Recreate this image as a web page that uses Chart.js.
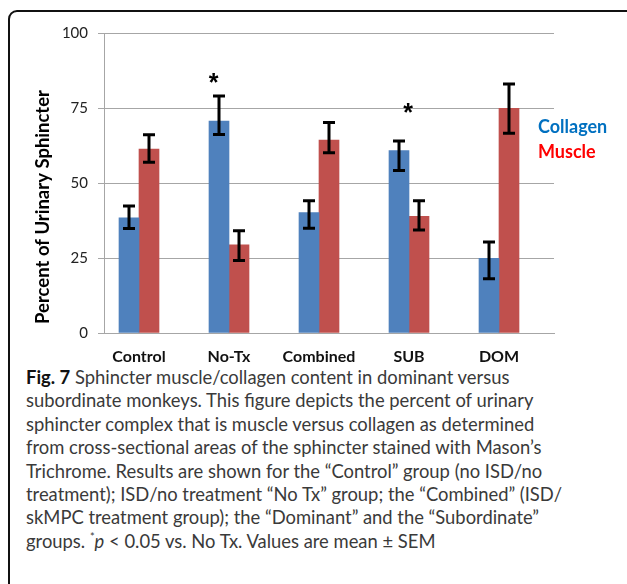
<!DOCTYPE html>
<html>
<head>
<meta charset="utf-8">
<script src="https://cdn.jsdelivr.net/npm/chart.js@4.4.1/dist/chart.umd.min.js"></script>
<style>
  html, body { margin: 0; padding: 0; background: #fff; }
  #wrap { position: relative; width: 627px; height: 584px; overflow: hidden; }
  #frame {
    position: absolute; left: 8px; top: 10px; width: 640px; height: 590px;
    border: 2px solid #111; border-radius: 9px; box-sizing: border-box;
  }
  #chart { position: absolute; left: 0; top: 0; }
  #caption {
    position: absolute; left: 26px; top: 366px;
    font-family: Lato, sans-serif; font-size: 18.4px; line-height: 23.4px;
    color: #3a3a3a; white-space: pre;
  }
  #caption b { color: #111; }
  #caption sup { font-size: 11px; line-height: 0; }
</style>
</head>
<body>
<div id="wrap">
  <div id="frame"></div>
  <canvas id="chart" width="627" height="365"></canvas>
  <div id="caption"><b>Fig. 7</b> Sphincter muscle/collagen content in dominant versus
subordinate monkeys. This figure depicts the percent of urinary
sphincter complex that is muscle versus collagen as determined
from cross-sectional areas of the sphincter stained with Mason’s
Trichrome. Results are shown for the “Control” group (no ISD/no
treatment); ISD/no treatment “No Tx” group; the “Combined” (ISD/
skMPC treatment group); the “Dominant” and the “Subordinate”
groups. <sup>*</sup><i>p</i> &lt; 0.05 vs. No Tx. Values are mean ± SEM</div>
</div>
<script>
// ---- data ----
const categories = ['Control', 'No-Tx', 'Combined', 'SUB', 'DOM'];
const collagen     = [38.4, 70.6, 40.1, 60.8, 24.9];
const collagenHigh = [42.3, 79.0, 44.1, 64.0, 30.3];  // error bar ends
const collagenLow  = [34.8, 66.2, 34.9, 54.2, 18.1];
const muscle       = [61.3, 29.4, 64.3, 38.9, 74.9];
const muscleHigh   = [66.1, 34.1, 70.2, 44.1, 83.0];
const muscleLow    = [56.9, 24.2, 60.1, 34.3, 66.6];
const yTicks       = [0, 25, 50, 75, 100];
// significance stars (category position, percent)
const stars = [{ x: 0.83, y: 85.3 }, { x: 2.99, y: 75.3 }];

const BLUE = '#4F81BD', RED = '#C0504D';
const GRID = '#a6a6a6';
const FONT = 'Lato, sans-serif';

const toPoints = vals => vals.map((v, i) => ({ x: i, y: v }));

// error bars + stars + legend + y title
const extras = {
  id: 'extras',
  afterDatasetsDraw(chart){
    const ctx = chart.ctx;
    const ys = chart.scales.y, xs = chart.scales.x;
    const highs = [collagenHigh, muscleHigh], lows = [collagenLow, muscleLow];
    ctx.save();
    ctx.strokeStyle = '#000';
    ctx.lineWidth = 3;
    chart.data.datasets.forEach((ds, d) => {
      chart.getDatasetMeta(d).data.forEach((bar, i) => {
        const top = ys.getPixelForValue(highs[d][i]), bot = ys.getPixelForValue(lows[d][i]);
        ctx.beginPath();
        ctx.moveTo(bar.x, top); ctx.lineTo(bar.x, bot);
        ctx.moveTo(bar.x - 6, top); ctx.lineTo(bar.x + 6, top);
        ctx.moveTo(bar.x - 6, bot); ctx.lineTo(bar.x + 6, bot);
        ctx.stroke();
      });
    });

    ctx.fillStyle = '#000';
    ctx.font = 'bold 25px "Liberation Sans", sans-serif';
    ctx.textAlign = 'center';
    ctx.textBaseline = 'alphabetic';
    stars.forEach(s => ctx.fillText('*', xs.getPixelForValue(s.x), ys.getPixelForValue(s.y) + 14));

    // legend as coloured words
    const area = chart.chartArea;
    ctx.font = 'bold 18px ' + FONT;
    ctx.textAlign = 'left';
    ctx.textBaseline = 'middle';
    ctx.fillStyle = '#0070C0';
    ctx.fillText(chart.data.datasets[0].label, area.right - 16, area.top + 94);
    ctx.fillStyle = '#FF0000';
    ctx.fillText(chart.data.datasets[1].label, area.right - 16, area.top + 119);

    // y axis title
    ctx.fillStyle = '#000';
    ctx.font = 'bold 18.5px ' + FONT;
    ctx.textAlign = 'center';
    ctx.translate(43, area.top + 174);
    ctx.rotate(-Math.PI / 2);
    ctx.fillText('Percent of Urinary Sphincter', 0, 0);
    ctx.restore();
  }
};

new Chart(document.getElementById('chart'), {
  type: 'bar',
  data: {
    datasets: [
      { label: 'Collagen', data: toPoints(collagen), backgroundColor: BLUE, barThickness: 20 },
      { label: 'Muscle', data: toPoints(muscle), backgroundColor: RED, barThickness: 20 }
    ]
  },
  options: {
    responsive: false,
    animation: false,
    layout: { padding: { left: 0, right: 73, top: 33, bottom: 0 } },
    plugins: { legend: { display: false }, tooltip: { enabled: false } },
    scales: {
      x: {
        type: 'linear',
        offset: false,
        min: -35 / 90,
        max: -35 / 90 + 5,
        grid: { display: false },
        border: { display: true, color: GRID, width: 1 },
        afterBuildTicks: s => { s.ticks = categories.map((c, i) => ({ value: i })); },
        afterFit: s => { s.height = 32; },
        ticks: {
          padding: 6,
          color: '#111',
          font: { family: FONT, size: 16, weight: 'bold' },
          callback: v => categories[v]
        }
      },
      y: {
        min: 0,
        max: 100,
        afterBuildTicks: s => { s.ticks = yTicks.map(v => ({ value: v })); },
        afterFit: s => { s.width = 104; },
        grid: { color: GRID, lineWidth: 1, tickLength: 6 },
        border: { color: GRID, width: 1 },
        ticks: { padding: 10, color: '#222', font: { family: FONT, size: 15 } }
      }
    }
  },
  plugins: [extras]
});
</script>
</body>
</html>
